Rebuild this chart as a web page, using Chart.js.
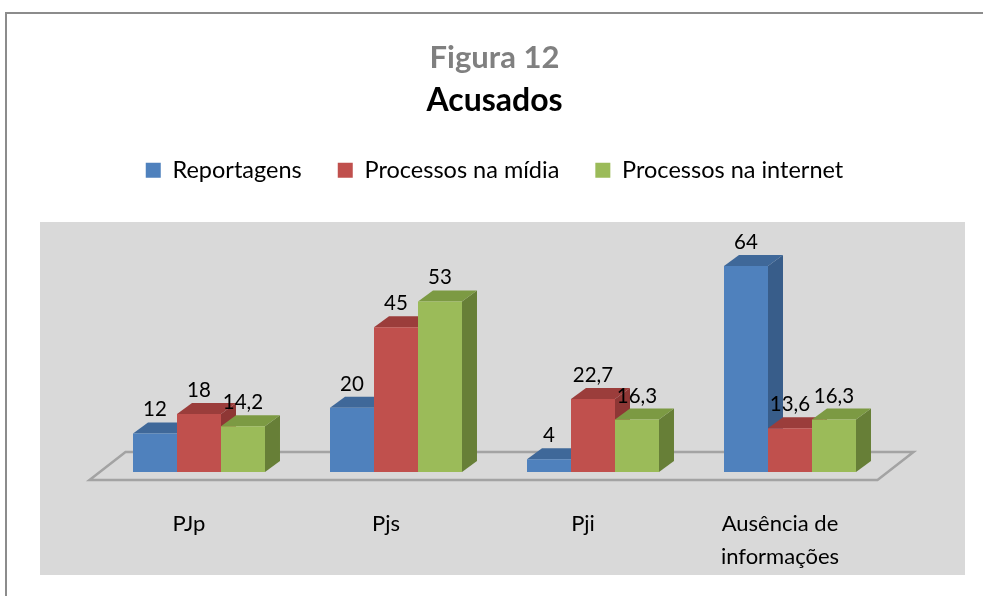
<!DOCTYPE html>
<html>
<head>
<meta charset="utf-8">
<script src="https://cdn.jsdelivr.net/npm/chart.js@4.4.1/dist/chart.umd.min.js"></script>
<style>
  html, body { margin: 0; padding: 0; background: #fff; }
  canvas { display: block; }
</style>
</head>
<body>
<canvas id="acusados" width="983" height="596"></canvas>
<script>
// dados
const categorias = ["PJp", "Pjs", "Pji", ["Ausência de", "informações"]];
const reportagens = [12, 20, 4, 64];
const processosMidia = [18, 45, 22.7, 13.6];
const processosInternet = [14.2, 53, 16.3, 16.3];
const series = ["Reportagens", "Processos na mídia", "Processos na internet"];

// cores de frente, topo e lateral das barras 3D
const cores = [
  { frente: "#4F81BD", topo: "#3F6899", lado: "#385D8A" },
  { frente: "#C0504D", topo: "#9B3D3B", lado: "#8E3735" },
  { frente: "#9BBB59", topo: "#7C9A43", lado: "#677F37" }
];

const FONTE = "Lato, 'Open Sans', sans-serif";
const PROF_X = 15, PROF_Y = 11;   // profundidade das barras

// fundo: moldura externa e area cinza
const fundo = {
  id: "fundo",
  beforeDraw(chart) {
    const ctx = chart.ctx;
    ctx.save();
    ctx.fillStyle = "#D9D9D9";
    ctx.fillRect(40, 222, 925, 353);
    ctx.strokeStyle = "#8C8C8C";
    ctx.lineWidth = 2;
    ctx.strokeRect(6, 13, 1000, 620);
    ctx.restore();
  }
};

// piso em perspectiva + faces laterais e superiores
const barras3d = {
  id: "barras3d",
  beforeDatasetsDraw(chart) {
    const ctx = chart.ctx;
    const area = chart.chartArea;
    const base = chart.scales.y.getPixelForValue(0);
    ctx.save();
    // piso
    const fy = base + 8, fl = area.left - 11, fr = area.right - 11;
    ctx.beginPath();
    ctx.moveTo(fl, fy);
    ctx.lineTo(fr, fy);
    ctx.lineTo(fr + 36, fy - 28);
    ctx.lineTo(fl + 36, fy - 28);
    ctx.closePath();
    ctx.strokeStyle = "#A3A3A3";
    ctx.lineWidth = 2.5;
    ctx.stroke();

    chart.data.datasets.forEach((ds, di) => {
      const meta = chart.getDatasetMeta(di);
      meta.data.forEach(bar => {
        const l = bar.x - bar.width / 2, r = bar.x + bar.width / 2;
        const t = bar.y, b = bar.base;
        // lateral
        ctx.fillStyle = cores[di].lado;
        ctx.beginPath();
        ctx.moveTo(r, t);
        ctx.lineTo(r + PROF_X, t - PROF_Y);
        ctx.lineTo(r + PROF_X, b - PROF_Y);
        ctx.lineTo(r, b);
        ctx.closePath();
        ctx.fill();
        // topo
        ctx.fillStyle = cores[di].topo;
        ctx.beginPath();
        ctx.moveTo(l, t);
        ctx.lineTo(l + PROF_X, t - PROF_Y);
        ctx.lineTo(r + PROF_X, t - PROF_Y);
        ctx.lineTo(r, t);
        ctx.closePath();
        ctx.fill();
      });
    });
    ctx.restore();
  },
  afterDatasetsDraw(chart) {
    const ctx = chart.ctx;
    ctx.save();
    ctx.font = "20.5px " + FONTE;
    ctx.fillStyle = "#000";
    ctx.textAlign = "center";
    ctx.textBaseline = "alphabetic";
    chart.data.datasets.forEach((ds, di) => {
      const meta = chart.getDatasetMeta(di);
      meta.data.forEach((bar, i) => {
        const txt = String(ds.data[i]).replace(".", ",");
        ctx.fillText(txt, bar.x, bar.y - PROF_Y - 6);
      });
    });
    ctx.restore();
  }
};

new Chart(document.getElementById("acusados"), {
  type: "bar",
  data: {
    labels: categorias,
    datasets: [
      { label: series[0], data: reportagens, backgroundColor: cores[0].frente },
      { label: series[1], data: processosMidia, backgroundColor: cores[1].frente },
      { label: series[2], data: processosInternet, backgroundColor: cores[2].frente }
    ]
  },
  options: {
    responsive: false,
    animation: false,
    events: [],
    barPercentage: 1,
    categoryPercentage: 0.67,
    layout: { padding: { top: 39, left: 100.5, right: 94.5, bottom: 24 } },
    scales: {
      x: {
        grid: { display: false, drawTicks: false },
        border: { display: false },
        afterFit: scale => { scale.height = 100; },
        ticks: {
          color: "#000",
          font: { family: FONTE, size: 22, lineHeight: 1.5 },
          padding: 35,
          labelOffset: -10,
          maxRotation: 0,
          autoSkip: false
        }
      },
      y: { display: false, min: 0, max: 87 }
    },
    plugins: {
      title: {
        display: true,
        text: "Figura 12",
        color: "#808080",
        font: { family: FONTE, size: 31, weight: "bold", lineHeight: 1.2 },
        padding: { top: 0, bottom: 0 }
      },
      subtitle: {
        display: true,
        text: "Acusados",
        color: "#000",
        font: { family: FONTE, size: 32, weight: "bold", lineHeight: 1.2 },
        padding: { top: 5, bottom: 3 }
      },
      legend: {
        position: "top",
        labels: {
          color: "#000",
          font: { family: FONTE, size: 23.5 },
          boxWidth: 15,
          boxHeight: 15,
          padding: 36
        }
      },
      tooltip: { enabled: false }
    }
  },
  plugins: [fundo, barras3d]
});
</script>
</body>
</html>
